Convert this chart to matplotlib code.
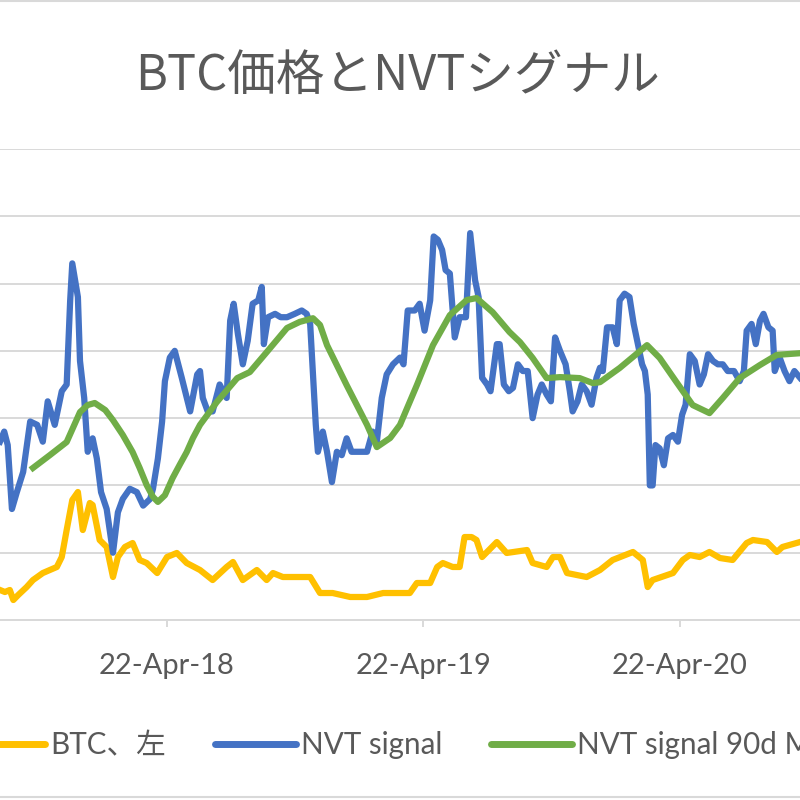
import matplotlib.pyplot as plt
import matplotlib.dates as mdates
from matplotlib.lines import Line2D
import pandas as pd

plt.rcParams['font.family'] = ['Lato', 'Noto Sans CJK JP', 'DejaVu Sans']

t0 = pd.Timestamp('2017-08-27')

# NVT signal (right axis), days since t0
nvt_days = [0, 6, 11, 17, 24, 33, 43, 53, 61, 68, 78, 88, 95, 100, 103, 107, 111, 114, 120, 125,
            132, 138, 144, 152, 161, 168, 175, 185, 195, 204, 214, 218, 225, 231, 235, 242, 249, 259, 271, 281,
            285, 289, 296, 303, 313, 323, 328, 333, 339, 346, 353, 360, 368, 373, 376, 382, 392, 400, 409, 420,
            430, 437, 442, 446, 450, 453, 460, 466, 473, 480, 487, 494, 501, 513, 523, 531, 537, 544, 551, 560,
            570, 575, 581, 591, 598, 605, 613, 618, 624, 630, 635, 641, 648, 655, 664, 670, 677, 682, 687, 694,
            699, 708, 712, 718, 725, 731, 738, 745, 752, 759, 766, 772, 779, 785, 791, 798, 806, 812, 816, 823,
            829, 836, 843, 850, 855, 859, 865, 873, 879, 883, 890, 897, 903, 909, 915, 919, 923, 926, 930, 934,
            940, 946, 952, 959, 966, 972, 977, 983, 990, 997, 1003, 1009, 1016, 1023, 1030, 1037, 1046, 1054, 1060, 1064,
            1071, 1077, 1083, 1088, 1095, 1101, 1104, 1111, 1118, 1125, 1132, 1140]
nvt_vals = [53, 56, 52, 33, 38, 44, 59, 58, 53, 65, 58, 68, 70, 95, 106, 101, 96, 77, 66, 50,
            54, 48, 38, 33, 20, 32, 36, 39, 38, 34, 36, 39, 48, 59, 71, 78, 80, 72, 62, 73,
            74, 66, 62, 62, 70, 66, 89, 94, 85, 76, 83, 94, 95, 99, 82, 90, 91, 90, 90, 91,
            92, 91, 88, 73, 58, 50, 56, 50, 41, 50, 49, 54, 50, 50, 50, 56, 53, 66, 73, 76,
            78, 76, 92, 92, 94, 86, 95, 114, 113, 110, 104, 103, 84, 90, 90, 115, 101, 96, 72, 70,
            68, 82, 82, 70, 68, 69, 76, 74, 74, 60, 67, 70, 67, 65, 84, 80, 76, 68, 62, 65,
            70, 68, 64, 72, 75, 74, 87, 87, 82, 95, 97, 96, 88, 82, 76, 74, 67, 40, 40, 52,
            51, 46, 54, 55, 53, 61, 64, 79, 77, 70, 73, 79, 77, 76, 76, 74, 74, 71, 74, 86,
            88, 82, 89, 91, 87, 86, 74, 78, 74, 71, 74, 72]

# NVT signal 90d moving average
ma_days = [47, 71, 95, 114, 125, 135, 150, 161, 175, 189, 199, 209, 218, 225, 235, 246, 256, 266, 275, 285,
           309, 338, 356, 380, 409, 427, 446, 456, 466, 494, 523, 537, 556, 570, 594, 617, 641, 665, 679, 702,
           726, 741, 759, 779, 798, 826, 845, 855, 883, 902, 922, 940, 964, 987, 1011, 1030, 1054, 1083, 1107, 1140]
ma_vals = [45.2, 49.0, 52.9, 61.8, 63.9, 64.5, 62.4, 59.4, 55.0, 49.9, 45.2, 40.1, 36.6, 35.1, 37.1, 42.2, 46.1, 49.9, 54.1, 58.0,
           64.8, 71.9, 73.7, 79.6, 86.8, 88.6, 89.7, 87.7, 81.7, 69.8, 58.0, 51.4, 54.1, 58.0, 69.8, 81.7, 90.6, 95.1, 95.7, 91.5,
           85.6, 82.6, 77.9, 71.9, 72.2, 71.9, 70.4, 70.7, 74.9, 78.2, 81.7, 77.9, 70.7, 63.9, 61.5, 66.0, 71.9, 75.8, 78.8, 79.3]

# BTC price (left axis, USD)
btc_days = [0, 7, 14, 19, 26, 38, 47, 61, 71, 81, 88, 95, 103, 111, 118, 128, 132, 142, 152, 161,
            168, 178, 189, 199, 209, 224, 238, 252, 266, 285, 303, 323, 332, 346, 366, 380, 389, 403, 442, 456,
            474, 499, 523, 546, 570, 584, 594, 613, 623, 631, 645, 655, 662, 672, 679, 687, 708, 722, 751, 759,
            779, 788, 798, 808, 836, 855, 873, 902, 916, 923, 930, 959, 973, 983, 997, 1011, 1026, 1044, 1064, 1073,
            1093, 1107, 1115, 1140]
btc_vals = [4460, 4160, 4460, 2970, 3720, 4900, 5940, 6980, 7430, 7880, 9360, 13370, 17830, 19020, 13370, 17390, 17090, 11890, 10850, 6390,
            9360, 10850, 11440, 8920, 8470, 6980, 9360, 9960, 8470, 7430, 5940, 7880, 8620, 5940, 7430, 5940, 6980, 6390, 6390, 4010,
            4010, 3420, 3420, 4010, 4010, 4010, 5500, 5500, 7880, 8470, 7880, 7880, 12330, 12330, 11890, 9360, 11590, 9960, 10400, 8470,
            7880, 9360, 9360, 6980, 6390, 7430, 8920, 10110, 8920, 4900, 5940, 6980, 8920, 9660, 9360, 10110, 9210, 8920, 11440, 11890,
            11590, 10110, 10850, 11590]

ticks = ['2018-04-22', '2019-04-22', '2020-04-22']

grey = '#595959'
grid = '#D9D9D9'

fig = plt.figure(figsize=(8, 8), dpi=100)
ax = fig.add_axes([0, 1 - 620 / 800, 1, (620 - 149) / 800])
ax2 = ax.twinx()

btc_x = t0 + pd.to_timedelta(btc_days, unit='D')
nvt_x = t0 + pd.to_timedelta(nvt_days, unit='D')
ma_x = t0 + pd.to_timedelta(ma_days, unit='D')

l1, = ax.plot(btc_x, btc_vals, color='#FFC000', lw=4.5, label='BTC、左', solid_joinstyle='round')
l2, = ax2.plot(nvt_x, nvt_vals, color='#4472C4', lw=4.5, label='NVT signal', solid_joinstyle='round')
l3, = ax2.plot(ma_x, ma_vals, color='#70AD47', lw=4.5, label='NVT signal 90d MA', solid_joinstyle='round')

ax.set_xlim(t0, t0 + pd.Timedelta(days=1140))
ax.set_ylim(0, 70000)
ax2.set_ylim(0, 140)
ax.set_yticks(range(0, 70001, 10000))
ax.tick_params(axis='y', left=False, labelleft=False)
ax2.tick_params(axis='y', right=False, labelright=False)
ax.grid(axis='y', color=grid, lw=1.4)
ax.set_axisbelow(True)
for a in (ax, ax2):
    for s in ('top', 'left', 'right'):
        a.spines[s].set_visible(False)
    a.spines['bottom'].set_color(grid)
    a.spines['bottom'].set_linewidth(1.4)

ax.set_xticks(pd.to_datetime(ticks))
ax.xaxis.set_major_formatter(mdates.DateFormatter('%d-%b-%y'))
ax.tick_params(axis='x', colors=grid, length=5, width=1.4, pad=19, labelsize=21, labelcolor=grey)

fig.text(0.497, 1 - 76 / 800, 'BTC価格とNVTシグナル', ha='center', va='center',
         fontsize=35, color=grey, family=['Noto Sans CJK JP', 'DejaVu Sans'])

# legend is cropped at both edges, as in the reference
leg = fig.legend(handles=[l1, l2, l3], loc='center left', bbox_to_anchor=(-36 / 800, 1 - 745 / 800),
                 ncol=3, frameon=False, handlelength=2.75, handletextpad=0.16,
                 columnspacing=1.65, borderpad=0, borderaxespad=0, labelcolor=grey,
                 prop={'family': ['Lato', 'Noto Sans CJK JP'], 'size': 21.3})
for h in leg.legend_handles:
    h.set_linewidth(5)
    h.set_solid_capstyle('round')

fig.add_artist(Line2D([0, 1], [1 - 1 / 800, 1 - 1 / 800], color=grid, lw=1.5))
fig.add_artist(Line2D([0, 1], [3 / 800, 3 / 800], color=grid, lw=1.5))

fig.savefig('out.png', dpi=100)
